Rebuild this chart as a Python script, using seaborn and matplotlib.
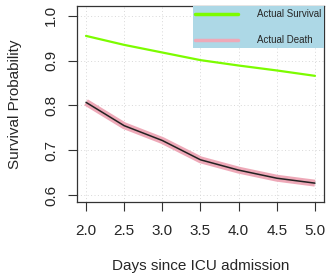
import matplotlib
matplotlib.use("Agg")
import matplotlib.pyplot as plt
import seaborn as sns
import pandas as pd
from matplotlib.patches import Rectangle
from matplotlib.lines import Line2D

days = [2.0, 2.5, 3.0, 3.5, 4.0, 4.5, 5.0]
actual_survival = [0.955, 0.935, 0.918, 0.901, 0.889, 0.878, 0.866]
actual_death = [0.807, 0.755, 0.722, 0.679, 0.656, 0.638, 0.627]
x_ticks = [2.0, 2.5, 3.0, 3.5, 4.0, 4.5, 5.0]
y_ticks = [0.6, 0.7, 0.8, 0.9, 1.0]
legend_labels = ["Actual Survival", "Actual Death"]

sns.set_style("white")
plt.rcParams['font.family'] = ['Liberation Sans', 'DejaVu Sans']

df = pd.DataFrame({"day": days, "surv": actual_survival, "death": actual_death})

fig = plt.figure(figsize=(3.32, 2.78), dpi=100)
ax = fig.add_axes([77/332, 1-202/278, (324-77)/332, (202-6)/278])

green = "#7CFC00"
pink = "#EEA9B8"

sns.lineplot(data=df, x="day", y="surv", ax=ax, color=green, lw=1.6, zorder=3)
sns.lineplot(data=df, x="day", y="death", ax=ax, color=pink, lw=5.0, zorder=3,
             solid_capstyle="butt")
sns.lineplot(data=df, x="day", y="death", ax=ax, color="#222222", lw=1.1, zorder=4)

ax.set_xlim(1.882, 5.118)
ax.set_ylim(0.585, 1.0216)
ax.set_xticks(x_ticks)
ax.set_xticklabels([f"{v:.1f}" for v in x_ticks], fontsize=11)
ax.set_yticks(y_ticks)
ax.set_yticklabels([f"{v:.1f}" for v in y_ticks], fontsize=11, rotation=90, va="center")
ax.tick_params(axis="both", direction="out", length=6.5, width=0.8, color="#333333",
               left=True, bottom=True)
ax.tick_params(axis="x", pad=9)
ax.tick_params(axis="y", pad=7)
ax.grid(True, linestyle=(0, (1, 2.5)), color="#d8d8d8", lw=0.7)
for s in ax.spines.values():
    s.set_visible(True)
    s.set_color("#333333")
    s.set_linewidth(0.9)

ax.set_xlabel("Days since ICU admission", fontsize=11)
ax.set_ylabel("Survival Probability", fontsize=11)
ax.xaxis.set_label_coords(0.5, -(266-202)/196, transform=ax.transAxes)
ax.xaxis.label.set_va("center")
ax.yaxis.set_label_coords(-(77-15)/247, 0.5, transform=ax.transAxes)
ax.yaxis.label.set_va("center")

# legend box (R-style)
ax.add_patch(Rectangle((193/332, 1-47.7/278), (324-193)/332, (47.7-6)/278,
                       transform=fig.transFigure, facecolor="#ADD8E6",
                       edgecolor="none", zorder=5, clip_on=False))
for ypix, col, lab in [(14, green, legend_labels[0]), (40, pink, legend_labels[1])]:
    yf = 1 - ypix/278
    fig.add_artist(Line2D([195/332, 238/332], [yf, yf], transform=fig.transFigure,
                          color=col, lw=2.5, zorder=6))
    fig.text(257/332, yf, lab, fontsize=7, va="center", ha="left", zorder=6)

fig.savefig("out.png", dpi=100)
